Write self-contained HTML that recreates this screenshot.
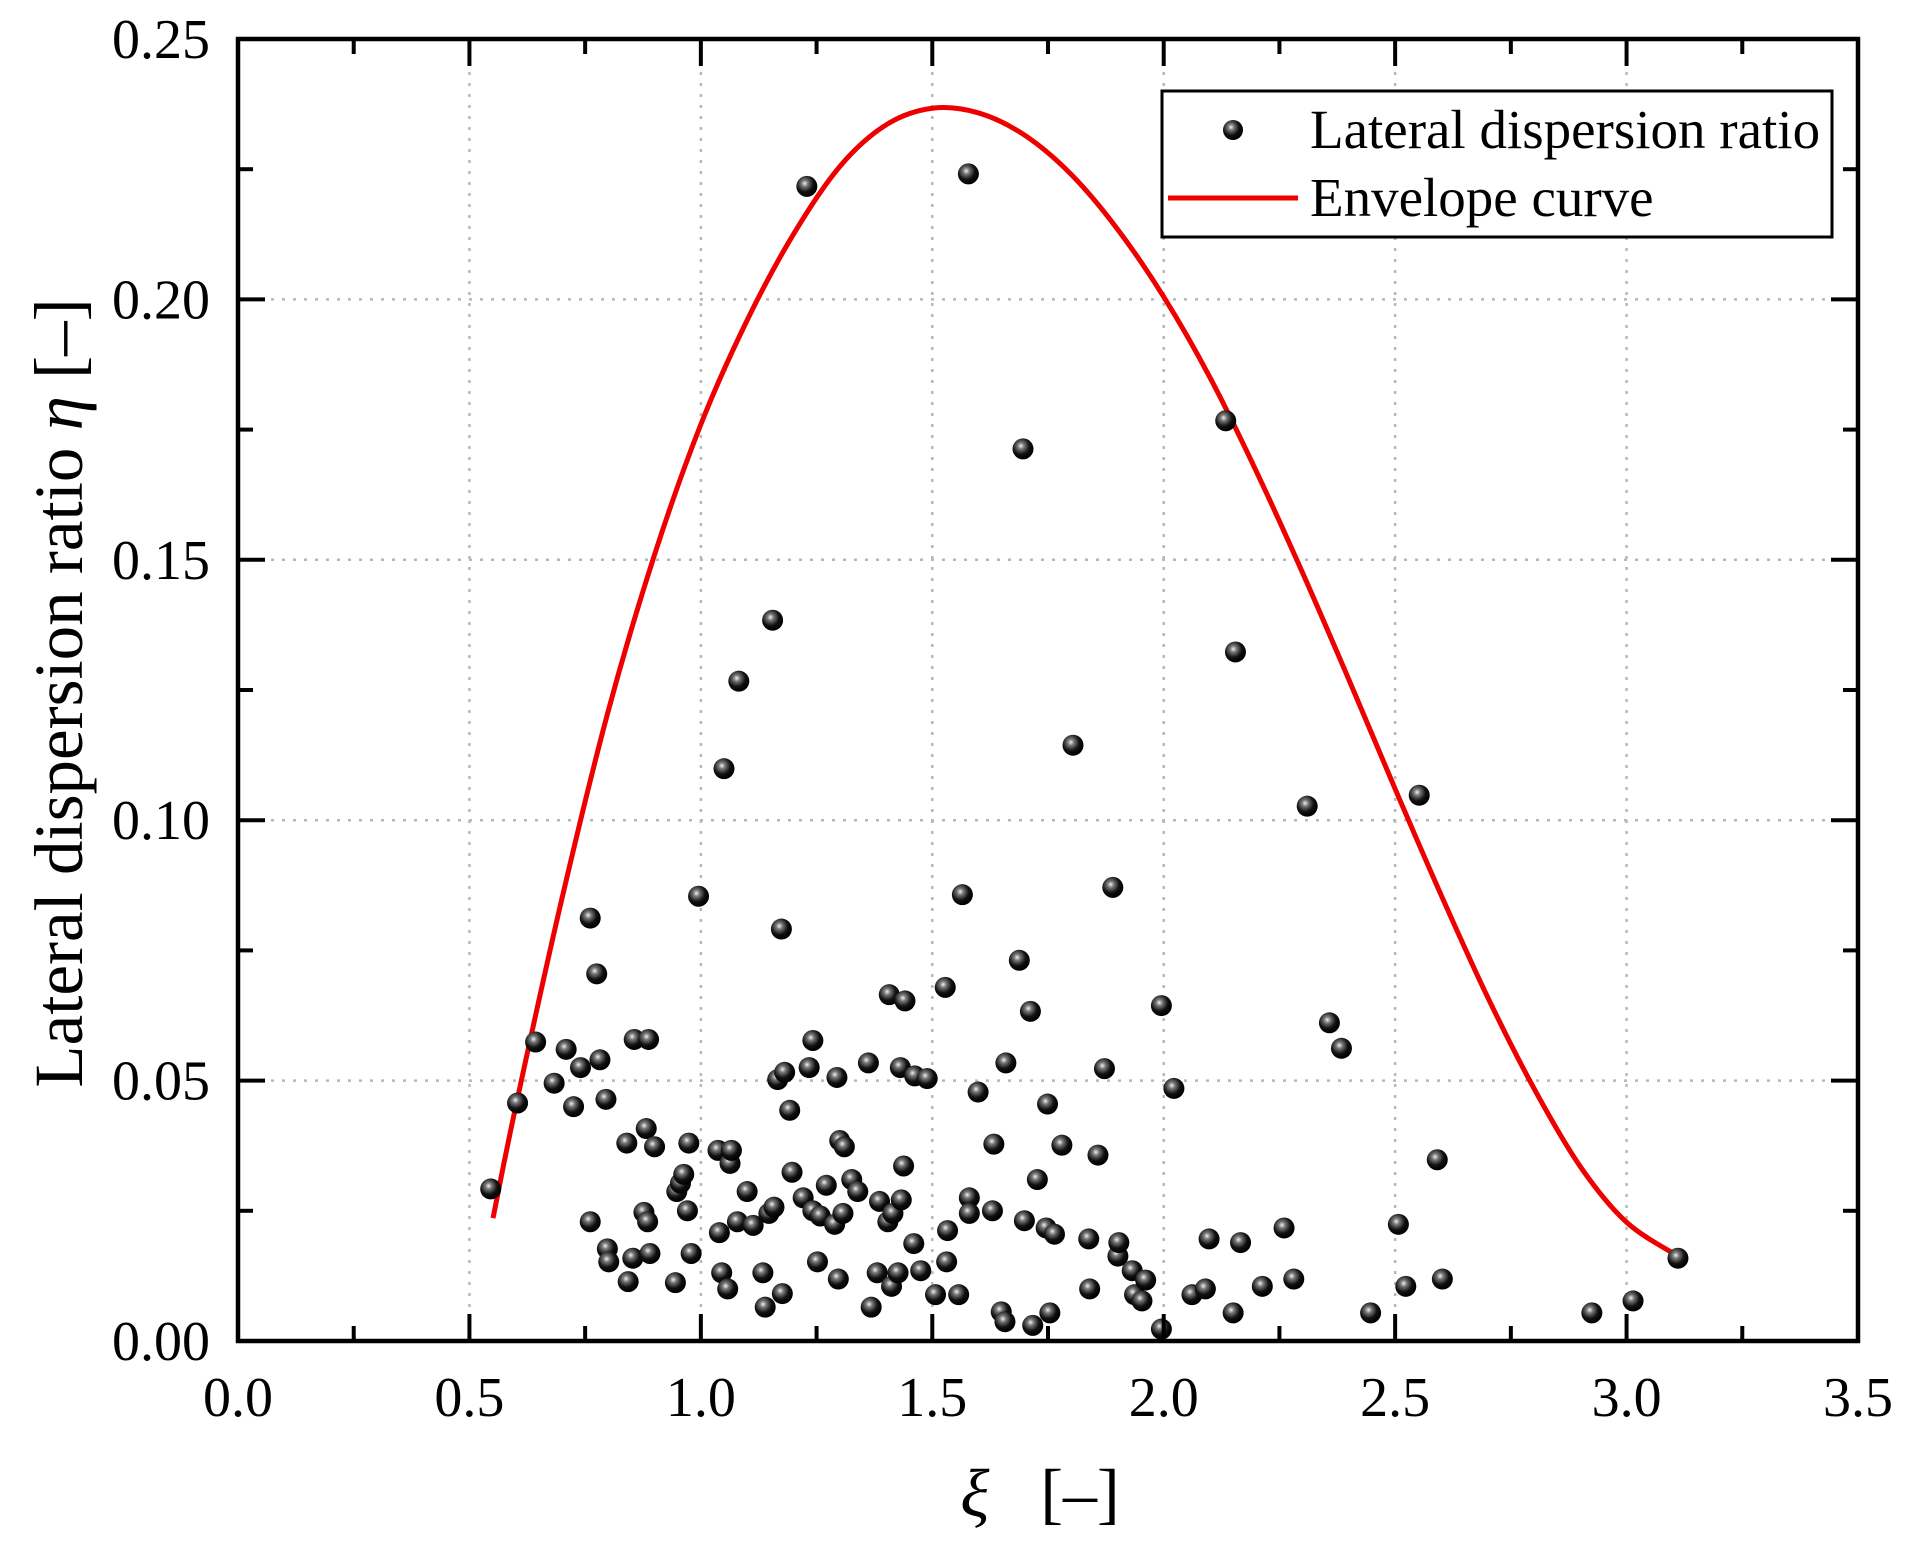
<!DOCTYPE html>
<html><head><meta charset="utf-8"><style>
html,body{margin:0;padding:0;background:#fff}
svg{display:block}
text{font-family:"Liberation Serif","DejaVu Serif",serif;fill:#000}
</style></head><body>
<svg id="chart" width="1906" height="1543" viewBox="0 0 1906 1543" xmlns="http://www.w3.org/2000/svg">
<defs>
<radialGradient id="ball" cx="0.4" cy="0.36" r="0.62">
<stop offset="0" stop-color="#f0f0f0"/><stop offset="0.25" stop-color="#777"/><stop offset="0.65" stop-color="#111"/><stop offset="1" stop-color="#000"/>
</radialGradient>
</defs>
<g id="grid"></g>
<g id="curve"></g>
<g id="points"></g>
<g id="axes"></g>
<g>
<rect x="1162" y="91" width="670" height="146" fill="#fff" stroke="#000" stroke-width="3"/>
<circle cx="1233" cy="130" r="10" fill="url(#ball)"/>
<text x="1310" y="148" font-size="55">Lateral dispersion ratio</text>
<line x1="1168" y1="198" x2="1298" y2="198" stroke="#e00" stroke-width="5"/>
<text x="1310" y="216" font-size="55">Envelope curve</text>
</g>
<text x="1040" y="1516" font-size="68" text-anchor="middle" xml:space="preserve"><tspan font-style="italic">ξ</tspan>   [–]</text>
<text transform="translate(82,693) rotate(-90)" font-size="69" text-anchor="middle">Lateral dispersion ratio <tspan font-style="italic">η</tspan> [–]</text>
</svg>
<script>
const xTicks=[0.0,0.5,1.0,1.5,2.0,2.5,3.0,3.5];
const xTickLabels=["0.0","0.5","1.0","1.5","2.0","2.5","3.0","3.5"];
const yTicks=[0,0.05,0.10,0.15,0.20,0.25];
const yTickLabels=["0.00","0.05","0.10","0.15","0.20","0.25"];
const ptX=[0.546,0.604,0.643,0.683,0.709,0.725,0.740,0.761,0.761,0.775,0.782,0.795,0.798,0.801,0.840,0.843,0.853,0.856,0.877,0.882,0.885,0.887,0.890,0.900,0.945,0.948,0.956,0.963,0.974,0.971,0.979,0.995,1.04,1.037,1.045,1.05,1.058,1.063,1.066,1.079,1.082,1.1,1.113,1.134,1.139,1.147,1.155,1.158,1.166,1.174,1.176,1.181,1.192,1.197,1.229,1.234,1.221,1.242,1.242,1.252,1.258,1.271,1.289,1.294,1.297,1.3,1.31,1.307,1.326,1.339,1.362,1.368,1.381,1.386,1.404,1.407,1.412,1.415,1.426,1.431,1.433,1.438,1.441,1.46,1.462,1.475,1.489,1.507,1.528,1.531,1.533,1.557,1.565,1.578,1.58,1.58,1.599,1.63,1.633,1.649,1.657,1.659,1.688,1.696,1.699,1.712,1.717,1.727,1.746,1.749,1.754,1.764,1.78,1.804,1.84,1.838,1.858,1.872,1.89,1.901,1.903,1.932,1.937,1.953,1.961,1.995,1.995,2.022,2.061,2.09,2.098,2.134,2.15,2.155,2.166,2.213,2.26,2.281,2.31,2.358,2.384,2.447,2.507,2.523,2.552,2.591,2.602,2.925,3.014,3.111];
const ptY=[.0292,.0457,.0574,.0495,.056,.045,.0525,.0229,.0812,.0705,.054,.0464,.0177,.0152,.038,.0114,.0159,.0579,.0247,.0408,.0229,.0579,.0168,.0373,.0112,.0287,.0303,.032,.038,.025,.0168,.0854,.0208,.0366,.0131,.1099,.010,.0341,.0366,.0229,.1267,.0287,.0222,.0131,.0065,.0245,.1384,.0257,.0502,.0791,.0091,.0516,.0443,.0324,.2217,.0525,.0275,.0577,.025,.0152,.024,.0299,.0224,.0506,.0119,.0385,.0373,.0245,.031,.0287,.0534,.0065,.0131,.0268,.0229,.0665,.0105,.0245,.0131,.0525,.0271,.0336,.0653,.0187,.0509,.0135,.0504,.0089,.0679,.0152,.0212,.0089,.0857,.2241,.0275,.0245,.0478,.025,.0378,.0056,.0037,.0534,.0731,.1713,.0231,.0633,.003,.031,.0217,.0455,.0054,.0205,.0376,.1144,.010,.0196,.0357,.0523,.0871,.0163,.0189,.0135,.0089,.0077,.0117,.0023,.0644,.0485,.0089,.010,.0196,.1767,.0054,.1323,.0189,.0105,.0217,.0119,.1027,.0611,.0562,.0054,.0224,.0105,.1048,.0348,.0119,.0054,.0077,.0159];
const envX=[0.551,0.6,0.7,0.8,0.9,1.0,1.1,1.2,1.3,1.4,1.5,1.6,1.7,1.8,1.9,2.0,2.1,2.2,2.3,2.4,2.5,2.6,2.7,2.8,2.9,3.0,3.111];
const envY=[.0236,.045,.085,.121,.151,.176,.196,.2125,.2255,.2335,.2367,.2358,.2315,.224,.2135,.2005,.185,.167,.1475,.127,.106,.0855,.066,.0485,.0335,.0228,.0163];

const L=238,R=1858,T=39,B=1341;
const sx=v=>L+(v-0)/(3.5-0)*(R-L);
const sy=v=>B-(v-0)/(0.25-0)*(B-T);
const NS="http://www.w3.org/2000/svg";
function mk(tag,attrs,parent){const e=document.createElementNS(NS,tag);for(const k in attrs)e.setAttribute(k,attrs[k]);parent.appendChild(e);return e;}
const grid=document.getElementById('grid'),axes=document.getElementById('axes'),pts=document.getElementById('points'),cv=document.getElementById('curve');
xTicks.forEach((t,i)=>{
  const x=sx(t);
  if(t>0&&t<3.5){const g=mk('line',{x1:x,y1:T,x2:x,y2:B,stroke:'#b8b8b8','stroke-width':2.5,'stroke-dasharray':'3 8'},grid);
  
  }
  [[B,-1],[T,1]].forEach(([y,d])=>{const tk=mk('line',{x1:x,y1:y,x2:x,y2:y+d*27,stroke:'#000','stroke-width':4},axes);
  
  });
  if(i<xTicks.length-1){const xm=sx(t+0.25);[[B,-1],[T,1]].forEach(([y,d])=>{const tk=mk('line',{x1:xm,y1:y,x2:xm,y2:y+d*15,stroke:'#000','stroke-width':4},axes);
  
  });}
  const lb=mk('text',{x:x,y:1416,'font-size':56,'text-anchor':'middle'},axes);lb.textContent=xTickLabels[i];
  
  
});
yTicks.forEach((t,i)=>{
  const y=sy(t);
  if(t>0&&t<0.25){const g=mk('line',{x1:L,y1:y,x2:R,y2:y,stroke:'#b8b8b8','stroke-width':2.5,'stroke-dasharray':'3 8'},grid);
  
  }
  [[L,1],[R,-1]].forEach(([x,d])=>{const tk=mk('line',{x1:x,y1:y,x2:x+d*27,y2:y,stroke:'#000','stroke-width':4},axes);
  
  });
  if(i<yTicks.length-1){const ym=sy(t+0.025);[[L,1],[R,-1]].forEach(([x,d])=>{const tk=mk('line',{x1:x,y1:ym,x2:x+d*15,y2:ym,stroke:'#000','stroke-width':4},axes);
  
  });}
  const lb=mk('text',{x:210,y:y+19,'font-size':56,'text-anchor':'end'},axes);lb.textContent=yTickLabels[i];
  
  
});
const frame=mk('rect',{x:L,y:T,width:R-L,height:B-T,fill:'none',stroke:'#000','stroke-width':4.5},axes);


const P=envX.map((x,i)=>[sx(x),sy(envY[i])]);
let d='M'+P[0][0]+','+P[0][1];
for(let i=0;i<P.length-1;i++){const p0=P[Math.max(0,i-1)],p1=P[i],p2=P[i+1],p3=P[Math.min(P.length-1,i+2)];
d+=' C'+(p1[0]+(p2[0]-p0[0])/6)+','+(p1[1]+(p2[1]-p0[1])/6)+' '+(p2[0]-(p3[0]-p1[0])/6)+','+(p2[1]-(p3[1]-p1[1])/6)+' '+p2[0]+','+p2[1];}
const path=mk('path',{d:d,fill:'none',stroke:'#e00','stroke-width':5,'stroke-linejoin':'round'},cv);


ptX.forEach((x,i)=>{const c=mk('circle',{cx:sx(x),cy:sy(ptY[i]),r:10.5,fill:'url(#ball)'},pts);

});
</script>
</body></html>
